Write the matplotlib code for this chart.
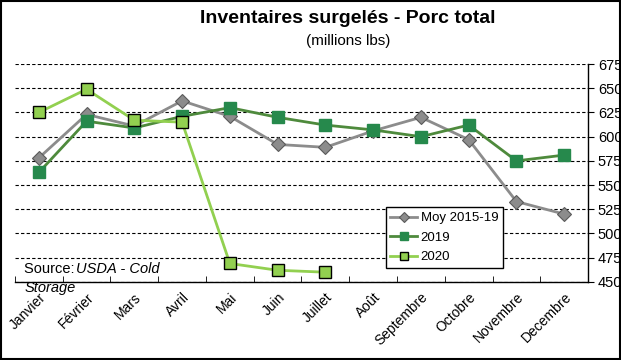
import matplotlib
matplotlib.use("Agg")
import matplotlib.pyplot as plt
from matplotlib.patches import Rectangle

plt.rcParams['font.family'] = ['Liberation Sans', 'DejaVu Sans']

mois = ['Janvier', 'Février', 'Mars', 'Avril', 'Mai', 'Juin', 'Juillet',
        'Août', 'Septembre', 'Octobre', 'Novembre', 'Decembre']
moy_2015_19 = [578, 623, 611, 637, 621, 592, 589, 606, 620, 597, 533, 520]
val_2019 = [563, 616, 609, 621, 630, 620, 612, 607, 600, 612, 575, 581]
val_2020 = [625, 649, 617, 615, 469, 462, 460]
yticks = [450, 475, 500, 525, 550, 575, 600, 625, 650, 675]

fig = plt.figure(figsize=(6.21, 3.60), dpi=100)
ax = fig.add_axes([0.024, 0.217, 0.923, 0.605])

x = list(range(len(mois)))
ax.plot(x, moy_2015_19, color='#8c8c8c', lw=2, marker='D', ms=7,
        mfc='#8c8c8c', mec='#5a5a5a', mew=0.8, label='Moy 2015-19', zorder=3)
ax.plot(x, val_2019, color='#4e8a3c', lw=2, marker='s', ms=8,
        mfc='#26894c', mec='#26894c', label='2019', zorder=4)
ax.plot(x[:len(val_2020)], val_2020, color='#92d050', lw=2, marker='s', ms=8,
        mfc='#92d050', mec='black', mew=1, label='2020', zorder=5)

ax.set_xlim(-0.5, 11.5)
ax.set_ylim(450, 675)
ax.set_yticks(yticks)
ax.yaxis.tick_right()
ax.yaxis.grid(True, color='black', ls=(0, (3, 2)), lw=0.8)
ax.tick_params(axis='y', length=4, labelsize=10.5, pad=3, direction='out')
ax.set_xticks(x)
ax.set_xticklabels(mois, rotation=45, ha='right', rotation_mode='anchor', fontsize=10)
ax.set_xticks([i + 0.5 for i in range(-1, 12)], minor=True)
ax.tick_params(axis='x', which='major', length=0, pad=6)
ax.tick_params(axis='x', which='minor', length=4, direction='in')
for s in ['top', 'left']:
    ax.spines[s].set_visible(False)
ax.spines['right'].set_linewidth(1)
ax.spines['bottom'].set_linewidth(1)

leg = ax.legend(loc='lower left', bbox_to_anchor=(0.647, 0.064), fontsize=9.5,
                frameon=True, fancybox=False, edgecolor='black', framealpha=1,
                handlelength=2.0, handletextpad=0.3, borderpad=0.35,
                labelspacing=0.55, markerscale=0.8, borderaxespad=0)
leg.get_frame().set_linewidth(1)

fig.text(0.56, 0.935, 'Inventaires surgelés - Porc total', ha='center',
         fontsize=14, fontweight='bold')
fig.text(0.56, 0.875, '(millions lbs)', ha='center', fontsize=11)

fig.text(0.038, 0.243, 'Source: ', fontsize=10.5)
fig.text(0.122, 0.243, 'USDA - Cold', fontsize=10.5, style='italic')
fig.text(0.04, 0.19, 'Storage', fontsize=10.5, style='italic')

fig.patches.append(Rectangle((0.001, 0.002), 0.997, 0.995, transform=fig.transFigure,
                             fill=False, edgecolor='black', lw=1.5))

fig.savefig('out.png', dpi=100)
